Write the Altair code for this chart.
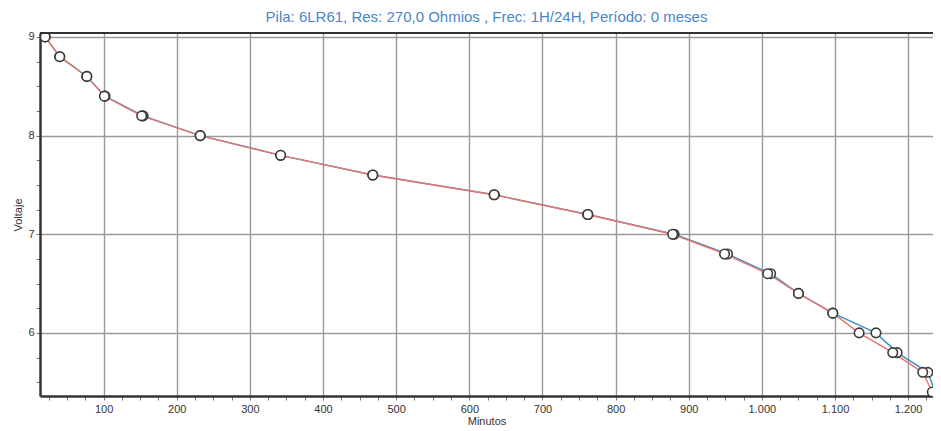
import altair as alt
import pandas as pd

voltaje = [9.0, 8.8, 8.6, 8.4, 8.2, 8.0, 7.8, 7.6, 7.4, 7.2, 7.0, 6.8, 6.6, 6.4, 6.2, 6.0, 5.8, 5.6, 5.4]
min_azul = [20, 40, 77, 102, 154, 232, 342, 468, 634, 762, 880, 953, 1012, 1050, 1097, 1156, 1185, 1227, 1237]
min_rojo = [20, 40, 77, 101, 152, 232, 342, 468, 634, 762, 878, 949, 1008, 1050, 1097, 1133, 1179, 1220, 1233]

x_ticks = list(range(25, 1250, 25))
y_ticks = [5.5, 5.75, 6, 6.25, 6.5, 6.75, 7, 7.25, 7.5, 7.75, 8, 8.25, 8.5, 8.75, 9]

rows = []
for i, v in enumerate(voltaje):
    rows.append({"serie": "A", "orden": i, "Minutos": min_azul[i], "Voltaje": v})
    rows.append({"serie": "B", "orden": i, "Minutos": min_rojo[i], "Voltaje": v})
df = pd.DataFrame(rows)

x_scale = alt.Scale(domain=[13, 1234], nice=False, zero=False)
y_scale = alt.Scale(domain=[5.36, 9.04], nice=False, zero=False)

x_axis = alt.Axis(
    values=x_ticks,
    labelExpr="datum.value % 100 === 0 ? replace(format(datum.value, ','), ',', '.') : ''",
    gridOpacity={"condition": {"test": "datum.value % 100 === 0", "value": 1}, "value": 0},
    tickSize=4, labelPadding=3, title="Minutos", titlePadding=1,
    titleFontSize=11, titleFontWeight="normal", labelFontSize=11,
    domainColor="#333333", domainWidth=2.5, tickColor="#777777",
    labelColor="#333333", titleColor="#333333", labelFont="Liberation Sans", titleFont="Liberation Sans",
)
y_axis = alt.Axis(
    values=y_ticks,
    labelExpr="datum.value % 1 === 0 ? datum.value : ''",
    gridOpacity={"condition": {"test": "datum.value % 1 === 0", "value": 1}, "value": 0},
    tickSize=4, labelPadding=2, title="Voltaje", titlePadding=4,
    titleFontSize=11, titleFontWeight="normal", labelFontSize=11,
    domainColor="#333333", domainWidth=2.5, tickColor="#777777",
    labelColor="#333333", titleColor="#333333", labelFont="Liberation Sans", titleFont="Liberation Sans",
)

base = alt.Chart(df).encode(
    x=alt.X("Minutos:Q", scale=x_scale, axis=x_axis),
    y=alt.Y("Voltaje:Q", scale=y_scale, axis=y_axis),
)

lines = base.mark_line(strokeWidth=1.4, clip=True).encode(
    color=alt.Color("serie:N", scale=alt.Scale(domain=["A", "B"], range=["#3b8ec4", "#e8766a"]), legend=None),
    order="orden:Q",
    detail="serie:N",
)
points = base.mark_point(shape="circle", filled=True, fill="white", stroke="#3a3a3a",
                         strokeWidth=1.6, size=90, opacity=1, clip=True)

top_border = alt.Chart(pd.DataFrame({"k": [0]})).mark_rule(color="#333333", strokeWidth=1.8).encode(
    x=alt.value(0), x2=alt.value(893), y=alt.value(0)
)

chart = alt.layer(lines, points, top_border).properties(
    width=893, height=363,
    autosize=alt.AutoSizeParams(type="none"),
    padding={"left": 32, "top": 25, "right": 0, "bottom": 30},
    title=alt.TitleParams(
        "Pila: 6LR61, Res: 270,0 Ohmios , Frec: 1H/24H, Período: 0 meses",
        color="#4a86c8", fontSize=15, fontWeight="normal", font="Liberation Sans",
        anchor="middle", offset=6,
    ),
).configure_view(strokeWidth=0).configure_axis(
    gridColor="#9a9a9a", gridWidth=1.4
)

chart.save("out.html", embed_options={"renderer": "svg", "actions": False})
